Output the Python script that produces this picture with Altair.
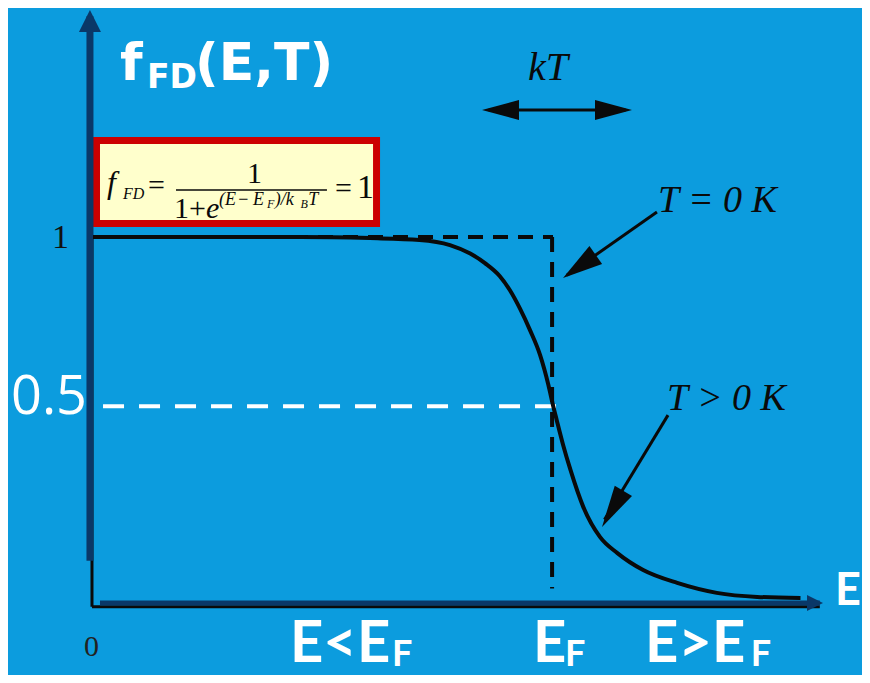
import math
import altair as alt
import pandas as pd

# ---------------- data ----------------
# Fermi-Dirac curve at T > 0 K (energy E, occupation f)
curve_E = [0.0, 1.16, 2.25, 3.01, 3.55, 3.88, 4.10, 4.26, 4.42, 4.53, 4.64, 4.75,
           4.86, 4.95, 5.00, 5.04, 5.11, 5.19, 5.33, 5.51, 5.70, 5.98, 6.35, 6.78,
           7.22, 7.69]
curve_f = [1.0, 1.0, 1.0, 0.997, 0.992, 0.978, 0.955, 0.929, 0.894, 0.856, 0.806,
           0.747, 0.679, 0.598, 0.543, 0.503, 0.435, 0.367, 0.266, 0.185, 0.141,
           0.095, 0.060, 0.033, 0.022, 0.019]

E_F = 5.0            # Fermi energy (position of the step)
step_high = 1.0      # T = 0 K occupation below E_F
step_low = 0.045     # where the dashed drop ends
half_level = 0.54    # dashed "0.5" guide as drawn
half_E_end = 5.14

tick_labels = ["0", "1", "0.5"]
title_parts = ["f", "FD", "(E,T)"]
bottom_labels = ["E<E", "F", "E", "F", "E>E", "F", "E"]
annot_labels = ["kT", "T = 0 K", "T > 0 K"]

BG = "#0c9cde"
NAVY = "#0a3868"
BLACK = "#0a0a0a"
WHITE = "#ffffff"

PX_E = 92.0    # pixels per energy unit
PX_F = 368.0   # pixels per occupation unit

xs = alt.Scale(domain=[0, 5], range=[85, 545], nice=False, zero=False)
ys = alt.Scale(domain=[0, 1], range=[597, 229], nice=False, zero=False)


def X(field="x"):
    return alt.X(f"{field}:Q", scale=xs, axis=None)


def Y(field="y"):
    return alt.Y(f"{field}:Q", scale=ys, axis=None)


# ---------------- segments ----------------
# (x, y, x2, y2, width, color)
solid_segments = [
    (-0.011, -0.005, -0.011, 1.0, 3, BLACK),      # original thin y axis
    (-0.011, -0.005, 7.90, -0.005, 3, BLACK),     # original thin x axis
    (-0.033, 0.12, -0.033, 1.60, 7, NAVY),        # navy y axis shaft
    (0.076, 0.0054, 7.90, 0.0054, 5, NAVY),       # navy x axis shaft
    (0.902, 1.1277, 2.543, 1.1277, 1.6, BLACK),   # fraction bar
    (4.30, 1.345, 5.79, 1.345, 3, BLACK),         # kT double arrow shaft
    (6.130, 1.068, 5.15, 0.896, 3, BLACK),        # T = 0 K pointer
    (6.250, 0.516, 5.56, 0.232, 3, BLACK),        # T > 0 K pointer
]
seg_df = pd.DataFrame(solid_segments, columns=["x", "y", "x2", "y2", "w", "c"])

segments = alt.Chart(seg_df).mark_rule(strokeCap="butt").encode(
    x=X("x"), y=Y("y"), x2="x2:Q", y2="y2:Q",
    strokeWidth=alt.StrokeWidth("w:Q", scale=None),
    color=alt.Color("c:N", scale=None),
)

# dashed T = 0 K step
step_df = pd.DataFrame([
    (0.0, step_high, E_F, step_high),
    (E_F - 0.01, step_high, E_F - 0.01, step_low),
], columns=["x", "y", "x2", "y2"])
step = alt.Chart(step_df).mark_rule(color=BLACK, strokeWidth=4, strokeDash=[15, 10],
                                    strokeCap="butt").encode(
    x=X("x"), y=Y("y"), x2="x2:Q", y2="y2:Q")

half_df = pd.DataFrame([(0.109, half_level, half_E_end, half_level)],
                       columns=["x", "y", "x2", "y2"])
half = alt.Chart(half_df).mark_rule(color=WHITE, strokeWidth=4, strokeDash=[21, 15],
                                    strokeCap="butt").encode(
    x=X("x"), y=Y("y"), x2="x2:Q", y2="y2:Q")

# formula box
box_df = pd.DataFrame([(0.038, 1.2622, 3.082, 1.0367)], columns=["x", "y", "x2", "y2"])
box = alt.Chart(box_df).mark_rect(fill="#ffffcc", stroke="#cc0000", strokeWidth=7).encode(
    x=X("x"), y=Y("y"), x2="x2:Q", y2="y2:Q")

# curve
curve_df = pd.DataFrame({"E": curve_E, "f": curve_f})
curve = alt.Chart(curve_df).mark_line(color=BLACK, strokeWidth=4, strokeJoin="round",
                                      interpolate="monotone").encode(
    x=X("E"), y=Y("f"), order="E:Q")

# ---------------- arrow heads ----------------
# (tip x, tip y, from x, from y, length px, half width px, color)
heads = [
    (-0.033, 1.617, -0.033, 1.0, 22, 11, NAVY),
    (7.935, 0.0054, 7.0, 0.0054, 16, 8, NAVY),
    (4.228, 1.345, 5.0, 1.345, 37, 10, BLACK),
    (5.859, 1.345, 5.0, 1.345, 37, 10, BLACK),
    (5.109, 0.8886, 6.130, 1.068, 40, 11, BLACK),
    (5.533, 0.212, 6.250, 0.516, 42, 10, BLACK),
]
rows = []
for tx, ty, fx, fy, L, hw, c in heads:
    dx = (tx - fx) * PX_E
    dy = -(ty - fy) * PX_F
    ang = math.degrees(math.atan2(dx, -dy)) % 360
    path = f"M0,0L{-hw},{L}L{hw},{L}Z"
    rows.append({"x": tx, "y": ty, "angle": ang, "shape": path, "c": c})
head_df = pd.DataFrame(rows)
arrowheads = alt.Chart(head_df).mark_point(filled=True, opacity=1, strokeWidth=0).encode(
    x=X("x"), y=Y("y"),
    shape=alt.Shape("shape:N", scale=None),
    angle=alt.Angle("angle:Q", scale=None),
    size=alt.value(4),
    color=alt.Color("c:N", scale=None),
)


# ---------------- texts ----------------
def text_layer(rows, font, style="normal", weight="normal", align="left"):
    df = pd.DataFrame(rows, columns=["x", "y", "t", "fs", "c"])
    return alt.Chart(df).mark_text(font=font, fontStyle=style, fontWeight=weight,
                                   align=align, baseline="alphabetic").encode(
        x=X("x"), y=Y("y"), text="t:N",
        size=alt.Size("fs:Q", scale=None),
        color=alt.Color("c:N", scale=None),
    )


serif_regular = text_layer([
    (-0.446, 0.970, tick_labels[1], 34, "#111111"),
    (-0.098, -0.139, tick_labels[0], 30, "#222222"),
    (0.598, 1.114, "=", 30, BLACK),
    (1.674, 1.1467, "1", 30, BLACK),
    (0.880, 1.0516, "1+", 30, BLACK),
    (1.580, 1.087, "\u2212", 18, BLACK),
    (2.630, 1.106, "=", 30, BLACK),
    (2.870, 1.106, "1", 34, BLACK),
], "Liberation Serif")

serif_italic = text_layer([
    (0.152, 1.1196, "f", 32, BLACK),
    (0.326, 1.1033, "FD", 16, BLACK),
    (1.228, 1.0516, "e", 30, BLACK),
    (1.370, 1.087, "(E", 18, BLACK),
    (1.740, 1.087, "E", 18, BLACK),
    (1.890, 1.0788, "F", 12, BLACK),
    (1.975, 1.087, ")/k", 18, BLACK),
    (2.255, 1.0788, "B", 12, BLACK),
    (2.340, 1.087, "T", 18, BLACK),
    (4.728, 1.4266, annot_labels[0], 40, BLACK),
    (6.141, 1.068, annot_labels[1], 38, BLACK),
    (6.239, 0.530, annot_labels[2], 38, BLACK),
], "Liberation Serif", style="italic")

title = text_layer([
    (0.293, 1.4266, title_parts[0], 52, WHITE),
    (0.587, 1.405, title_parts[1], 33, WHITE),
    (1.109, 1.4266, title_parts[2], 52, WHITE),
], "DejaVu Sans", weight="bold")

bottom = text_layer([
    (2.141, -0.155, bottom_labels[0], 58, WHITE),
    (3.250, -0.166, bottom_labels[1], 36, WHITE),
    (4.783, -0.155, bottom_labels[2], 58, WHITE),
    (5.130, -0.166, bottom_labels[3], 36, WHITE),
    (6.000, -0.155, bottom_labels[4], 58, WHITE),
    (7.150, -0.166, bottom_labels[5], 36, WHITE),
    (8.065, 0.0, bottom_labels[6], 45, WHITE),
], "Lato", weight="bold")

half_label = text_layer([
    (-0.891, 0.519, tick_labels[2], 54, WHITE),
], "Open Sans")

chart = alt.layer(
    box, half, step, segments, curve, arrowheads,
    serif_regular, serif_italic, title, bottom, half_label,
).properties(
    width=854, height=667, padding=0,
    autosize=alt.AutoSizeParams(type="none"),
    background=BG,
).configure_view(stroke=None)

chart.save("out.html", embed_options={"renderer": "svg", "actions": False})
